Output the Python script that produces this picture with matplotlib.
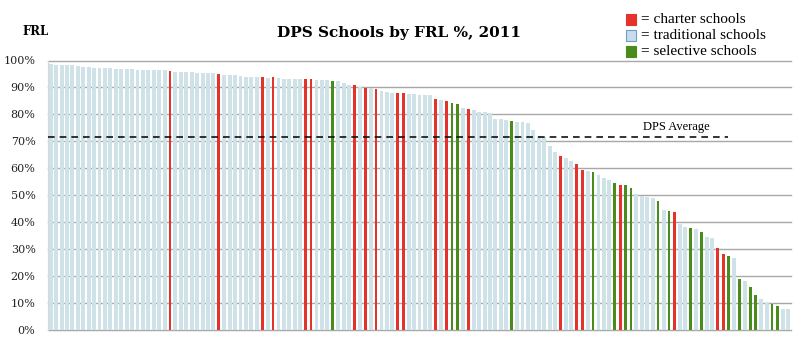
import matplotlib
matplotlib.use("Agg")
import matplotlib.pyplot as plt
from matplotlib.patches import Rectangle

# ---- data ----
frl_pct = [
    98.6, 98.5, 98.3, 98.3, 98.2, 98.1, 97.7, 97.6, 97.4, 97.4,
    97.1, 97.1, 97.0, 97.0, 96.9, 96.9, 96.6, 96.5, 96.4, 96.4,
    96.3, 96.3, 96.1, 95.8, 95.8, 95.7, 95.7, 95.5, 95.5, 95.3,
    95.2, 94.9, 94.6, 94.6, 94.5, 94.2, 94.0, 94.0, 94.0, 93.9,
    93.6, 93.7, 93.4, 93.3, 93.2, 93.1, 93.0, 93.0, 93.0, 92.8,
    92.7, 92.6, 92.5, 92.3, 91.6, 90.9, 90.8, 90.1, 89.9, 89.7,
    89.3, 88.8, 88.4, 88.1, 88.1, 88.1, 87.6, 87.4, 87.2, 87.2,
    87.1, 85.7, 85.3, 85.0, 84.2, 83.7, 82.3, 82.0, 81.6, 81.0,
    80.8, 80.4, 78.3, 78.2, 77.9, 77.6, 77.2, 77.0, 76.9, 74.2,
    72.0, 71.5, 68.2, 66.2, 64.6, 63.7, 62.8, 61.5, 59.4, 59.1,
    58.7, 57.5, 56.5, 55.7, 54.7, 53.8, 53.7, 52.8, 50.5, 49.8,
    49.5, 48.9, 47.9, 44.5, 44.3, 43.9, 39.3, 38.1, 37.7, 37.4,
    36.5, 34.4, 34.0, 30.3, 28.2, 27.6, 26.6, 18.8, 18.3, 15.8,
    13.0, 11.4, 10.5, 9.6, 8.9, 7.7, 7.7,
]
# T = traditional, C = charter, S = selective
school_type = list(
    "TTTTTTTTTT" "TTTTTTTTTT" "TTCTTTTTTT" "TCTTTTTTTC"
    "TCTTTTTCCT" "TTSTTTCTCT" "CTTTCCTTTT" "TCTCSSTCTT"
    "TTTTTSTTTT" "TTTTCTTCCT" "STTTSCSSTT" "TTSTSCTTST"
    "STTCCSTSTS" "STTSSTT"
)
dps_average = 71.7
y_ticks = [0, 10, 20, 30, 40, 50, 60, 70, 80, 90, 100]
y_tick_labels = [f"{t}%" for t in y_ticks]

colors = {"T": "#cfe2e8", "C": "#e5322a", "S": "#4a8c1c"}
widths = {"T": 0.72, "C": 0.5, "S": 0.5}
legend_items = [("C", "= charter schools"), ("T", "= traditional schools"),
                ("S", "= selective schools")]

fig = plt.figure(figsize=(8.0, 3.53), dpi=100)
ax = fig.add_axes([48 / 800, 23 / 353, 743 / 800, 269.5 / 353])

x = list(range(len(frl_pct)))
ax.bar(x, frl_pct, width=[widths[t] for t in school_type],
       color=[colors[t] for t in school_type], zorder=2, linewidth=0)

ax.set_xlim(-0.5, len(frl_pct) - 0.5)
ax.set_ylim(0, 100)
ax.set_yticks(y_ticks)
ax.set_yticklabels(y_tick_labels, family="DejaVu Serif", fontsize=8, color="#222222")
ax.set_xticks([])
ax.tick_params(axis="y", length=0, pad=9)
for t in y_ticks:
    ax.axhline(t, color="#a8a8a8", lw=1.0, zorder=1, clip_on=False)
for s in ["top", "right", "bottom"]:
    ax.spines[s].set_visible(False)
ax.spines["left"].set_color("#d8d8d8")
ax.spines["left"].set_linewidth(0.8)

ax.axhline(dps_average, xmin=0, xmax=0.915, color="#111111", lw=1.2,
           ls=(0, (4, 3)), zorder=3)
ax.text(0.845, 0.752, "DPS Average", transform=ax.transAxes,
        family="Liberation Serif", fontsize=9, ha="center", va="center")

fig.text(0.499, 0.906, "DPS Schools by FRL %, 2011", family="DejaVu Serif",
         fontweight="bold", fontsize=11, ha="center", va="center")
fig.text(0.045, 0.91, "FRL", family="DejaVu Serif", fontweight="bold",
         fontsize=8.5, ha="center", va="center")

for i, (k, label) in enumerate(legend_items):
    yc = 1 - (19.5 + 16 * i) / 353
    ec = "#6d9fc0" if k == "T" else colors[k]
    fc = "#c9dcee" if k == "T" else colors[k]
    fig.patches.append(Rectangle((626 / 800, yc - 5.5 / 353), 10 / 800, 11 / 353,
                                 transform=fig.transFigure, facecolor=fc,
                                 edgecolor=ec, lw=0.8))
    fig.text(641 / 800, yc, label, family="Liberation Serif", fontsize=11,
             ha="left", va="center")

fig.savefig("out.png", dpi=100, facecolor="white")
